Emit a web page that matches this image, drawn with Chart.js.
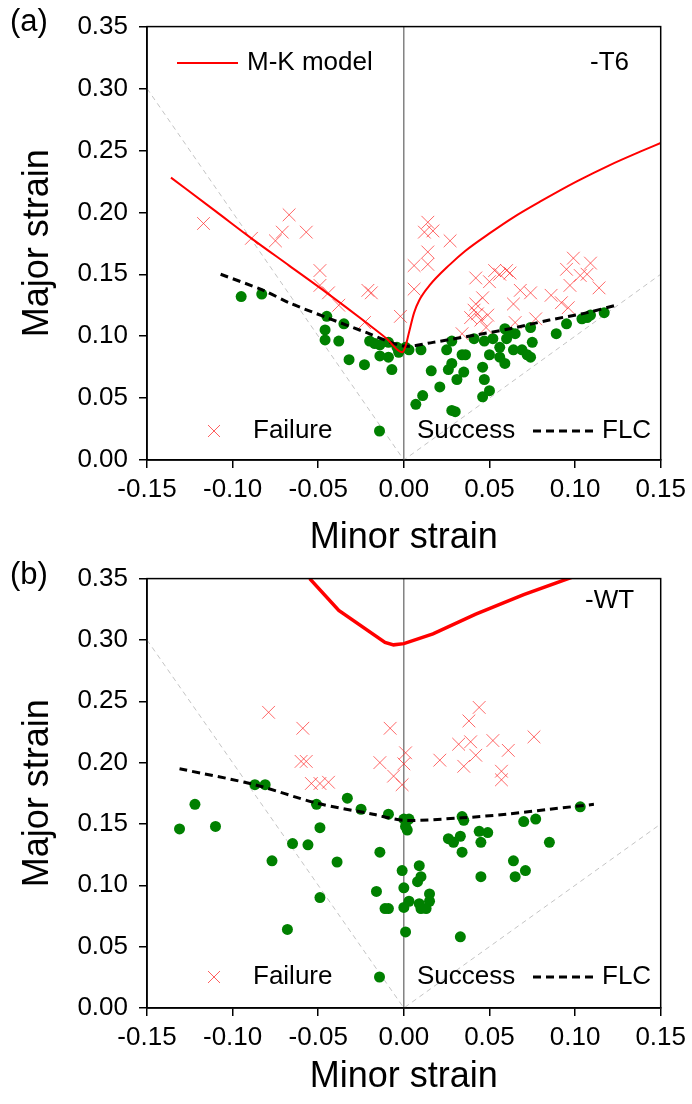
<!DOCTYPE html>
<html>
<head>
<meta charset="utf-8">
<script src="https://cdn.jsdelivr.net/npm/chart.js@4.4.0/dist/chart.umd.min.js"></script>
<style>
    html, body { margin: 0; padding: 0; background: #fff; }
    #wrap { position: relative; width: 692px; height: 1104px; overflow: hidden; }
    .panel { position: absolute; left: 0; width: 692px; }
    #boxA { top: 0; height: 570px; }
    #boxB { top: 552px; height: 552px; }
</style>
</head>
<body>
<div id="wrap">
    <div class="panel" id="boxA"><canvas id="chartA"></canvas></div>
    <div class="panel" id="boxB"><canvas id="chartB"></canvas></div>
</div>
<script>
// Axis ticks
const xTicks = [-0.15, -0.10, -0.05, 0.00, 0.05, 0.10, 0.15];
const yTicks = [0.00, 0.05, 0.10, 0.15, 0.20, 0.25, 0.30, 0.35];

// Strain path guides (uniaxial / equibiaxial)
const guideLine = [[-0.15, 0.30], [0, 0], [0.15, 0.15]];

// (a) -T6
const failA = [
    [-0.117, 0.191], [-0.067, 0.198], [-0.089, 0.179], [-0.075, 0.177], [-0.071, 0.184],
    [-0.057, 0.184], [-0.049, 0.153], [-0.049, 0.141], [-0.044, 0.135], [-0.038, 0.125],
    [-0.021, 0.137], [-0.019, 0.135], [-0.023, 0.111], [-0.002, 0.116],
    [0.014, 0.192], [0.017, 0.185], [0.012, 0.184], [0.027, 0.177], [0.014, 0.168],
    [0.006, 0.157], [0.014, 0.158], [0.006, 0.138], [0.042, 0.147], [0.050, 0.144],
    [0.053, 0.153], [0.056, 0.150], [0.062, 0.151], [0.060, 0.153], [0.068, 0.137],
    [0.074, 0.135], [0.064, 0.126], [0.046, 0.131], [0.042, 0.126], [0.041, 0.121],
    [0.043, 0.118], [0.039, 0.115], [0.049, 0.117], [0.045, 0.113], [0.048, 0.107],
    [0.034, 0.102], [0.065, 0.111], [0.077, 0.114], [0.086, 0.133], [0.092, 0.127],
    [0.096, 0.123], [0.099, 0.163], [0.095, 0.154], [0.109, 0.159], [0.103, 0.149],
    [0.107, 0.150], [0.097, 0.141], [0.114, 0.139]
];
const succA = [
    [-0.095, 0.132], [-0.083, 0.134], [-0.045, 0.116], [-0.035, 0.110], [-0.046, 0.105],
    [-0.046, 0.097], [-0.038, 0.096], [-0.020, 0.096], [-0.017, 0.094], [-0.014, 0.093],
    [-0.009, 0.095], [-0.004, 0.091], [-0.014, 0.084], [-0.009, 0.083], [-0.003, 0.087],
    [-0.032, 0.081], [-0.023, 0.077], [-0.007, 0.073], [0.001, 0.091],
    [0.003, 0.089], [0.010, 0.089], [0.028, 0.096], [0.025, 0.089], [0.034, 0.085],
    [0.036, 0.085], [0.028, 0.078], [0.026, 0.073], [0.016, 0.072], [0.035, 0.071],
    [0.031, 0.065], [0.021, 0.059], [0.011, 0.052], [0.007, 0.045], [0.030, 0.039],
    [0.028, 0.040], [0.046, 0.075], [0.047, 0.065], [0.050, 0.056], [0.046, 0.051],
    [0.041, 0.098], [0.047, 0.096], [0.052, 0.098], [0.056, 0.091], [0.060, 0.098],
    [0.062, 0.103], [0.065, 0.102], [0.059, 0.106], [0.050, 0.085], [0.056, 0.083],
    [0.059, 0.078], [0.064, 0.089], [0.069, 0.089], [0.072, 0.085], [0.074, 0.083],
    [0.075, 0.095], [0.074, 0.107], [0.089, 0.102], [0.095, 0.110], [0.104, 0.114],
    [0.107, 0.115], [0.109, 0.117], [0.117, 0.119]
];
const flcA = [
    [-0.107, 0.150], [-0.082, 0.137], [-0.067, 0.127], [-0.045, 0.115], [-0.022, 0.103],
    [0.000, 0.092], [0.017, 0.095], [0.042, 0.101], [0.062, 0.106], [0.085, 0.113],
    [0.107, 0.119], [0.124, 0.125]
];
const mkA = [
    [-0.136, 0.228], [-0.110, 0.201], [-0.089, 0.179], [-0.067, 0.157], [-0.045, 0.135],
    [-0.022, 0.111], [-0.010, 0.098], [-0.001, 0.087],
    [0.001, 0.092], [0.003, 0.103], [0.006, 0.119], [0.009, 0.129], [0.015, 0.141],
    [0.027, 0.158], [0.036, 0.169], [0.050, 0.183], [0.064, 0.196], [0.080, 0.209],
    [0.101, 0.225], [0.120, 0.238], [0.138, 0.249], [0.150, 0.256]
];

// (b) -WT
const failB = [
    [-0.079, 0.241], [-0.059, 0.228], [-0.060, 0.201], [-0.057, 0.201], [-0.054, 0.183],
    [-0.049, 0.183], [-0.044, 0.184], [-0.008, 0.228], [-0.014, 0.200], [-0.006, 0.189],
    [-0.001, 0.182], [0.001, 0.208], [0.000, 0.199],
    [0.044, 0.245], [0.038, 0.234], [0.032, 0.215], [0.039, 0.217], [0.052, 0.218],
    [0.076, 0.221], [0.061, 0.210], [0.042, 0.206], [0.021, 0.202], [0.035, 0.197],
    [0.057, 0.193], [0.057, 0.186]
];
const succB = [
    [-0.122, 0.166], [-0.131, 0.146], [-0.110, 0.148], [-0.087, 0.182], [-0.081, 0.182],
    [-0.033, 0.171], [-0.051, 0.166], [-0.025, 0.162], [-0.009, 0.158], [-0.049, 0.147],
    [-0.065, 0.134], [-0.056, 0.133], [-0.077, 0.120], [-0.039, 0.119], [-0.014, 0.127],
    [-0.001, 0.112], [-0.016, 0.095], [0.000, 0.098], [-0.011, 0.081], [-0.009, 0.081],
    [0.000, 0.082], [-0.049, 0.090], [-0.068, 0.064], [0.001, 0.062], [0.000, 0.154],
    [0.001, 0.148],
    [0.003, 0.154], [0.002, 0.145], [0.034, 0.156], [0.035, 0.153], [0.026, 0.138],
    [0.029, 0.135], [0.033, 0.140], [0.044, 0.144], [0.049, 0.143], [0.045, 0.135],
    [0.034, 0.127], [0.070, 0.152], [0.077, 0.154], [0.085, 0.135], [0.103, 0.164],
    [0.064, 0.120], [0.071, 0.112], [0.065, 0.107], [0.045, 0.107], [0.009, 0.116],
    [0.010, 0.107], [0.008, 0.103], [0.003, 0.087], [0.009, 0.085], [0.015, 0.093],
    [0.015, 0.087], [0.013, 0.081], [0.010, 0.081], [0.033, 0.058]
];
const flcB = [
    [-0.131, 0.195], [-0.087, 0.182], [-0.051, 0.167], [-0.018, 0.158], [0.000, 0.153],
    [0.034, 0.155], [0.060, 0.158], [0.085, 0.162], [0.111, 0.166]
];
const mkB = [
    [-0.055, 0.350], [-0.038, 0.324], [-0.011, 0.298], [-0.006, 0.296], [0.000, 0.297],
    [0.017, 0.305], [0.042, 0.321], [0.070, 0.337], [0.100, 0.352]
];

const FONT = '"Liberation Sans", Arial, sans-serif';
const toXY = arr => arr.map(p => ({ x: p[0], y: p[1] }));

// Frame, zero line, legend and labels
const decorPlugin = {
    id: 'decor',
    beforeDatasetsDraw(chart) {
        const { ctx, chartArea: a, scales: { x } } = chart;
        const x0 = x.getPixelForValue(0);
        ctx.save();
        ctx.strokeStyle = '#444';
        ctx.lineWidth = 1;
        ctx.beginPath();
        ctx.moveTo(x0, a.top);
        ctx.lineTo(x0, a.bottom);
        ctx.stroke();
        ctx.restore();
    },
    afterDraw(chart, args, opts) {
        const { ctx, chartArea: a } = chart;
        ctx.save();
        ctx.strokeStyle = '#000';
        ctx.lineWidth = 1.5;
        ctx.strokeRect(a.left, a.top, a.right - a.left, a.bottom - a.top);

        ctx.fillStyle = '#000';
        ctx.textBaseline = 'middle';
        ctx.textAlign = 'left';
        ctx.font = '31px ' + FONT;
        ctx.fillText(opts.panel, 10, opts.panelY);

        ctx.font = '26px ' + FONT;
        ctx.fillText(opts.tag, opts.tagX, opts.tagY);

        if (opts.mkLegend) {
            ctx.strokeStyle = '#ff0000';
            ctx.lineWidth = 2;
            ctx.beginPath();
            ctx.moveTo(177, opts.tagY);
            ctx.lineTo(238, opts.tagY);
            ctx.stroke();
            ctx.fillText('M-K model', 247, opts.tagY);
        }

        const ly = opts.legendY;
        // Failure marker
        ctx.strokeStyle = 'rgba(255,40,40,0.75)';
        ctx.lineWidth = 1;
        ctx.beginPath();
        ctx.moveTo(208, ly - 6); ctx.lineTo(220, ly + 6);
        ctx.moveTo(220, ly - 6); ctx.lineTo(208, ly + 6);
        ctx.stroke();
        ctx.fillText('Failure', 253, ly);
        // Success marker
        ctx.fillStyle = '#008000';
        ctx.beginPath();
        ctx.arc(379.5, ly, 5.5, 0, Math.PI * 2);
        ctx.fill();
        ctx.fillStyle = '#000';
        ctx.fillText('Success', 417, ly);
        // FLC marker
        ctx.strokeStyle = '#000';
        ctx.lineWidth = 3;
        ctx.setLineDash([8, 5]);
        ctx.beginPath();
        ctx.moveTo(533, ly); ctx.lineTo(596, ly);
        ctx.stroke();
        ctx.setLineDash([]);
        ctx.fillText('FLC', 602, ly);
        ctx.restore();
    }
};

function makePanel(canvasId, p) {
    const ctx = document.getElementById(canvasId);
    return new Chart(ctx, {
        type: 'scatter',
        data: {
            datasets: [
                {
                    label: 'M-K model',
                    data: toXY(p.mk),
                    showLine: true,
                    borderColor: '#ff0000',
                    borderWidth: p.mkWidth,
                    pointRadius: 0,
                    cubicInterpolationMode: p.mkSmooth ? 'monotone' : 'default',
                    tension: 0
                },
                {
                    label: 'FLC',
                    data: toXY(p.flc),
                    showLine: true,
                    borderColor: '#000',
                    borderWidth: 3,
                    borderDash: [8, 5],
                    pointRadius: 0,
                    tension: 0.3
                },
                {
                    label: 'Failure',
                    data: toXY(p.fail),
                    pointStyle: 'crossRot',
                    pointRadius: 9,
                    borderColor: 'rgba(255,40,40,0.7)',
                    borderWidth: 1
                },
                {
                    label: 'Success',
                    data: toXY(p.succ),
                    pointStyle: 'circle',
                    pointRadius: 5.5,
                    backgroundColor: '#008000',
                    borderColor: '#008000',
                    borderWidth: 0
                },
                {
                    label: 'guide',
                    data: toXY(guideLine),
                    showLine: true,
                    borderColor: '#c4c4c4',
                    borderWidth: 1,
                    borderDash: [5, 4],
                    pointRadius: 0
                }
            ]
        },
        options: {
            responsive: true,
            maintainAspectRatio: false,
            animation: false,
            events: [],
            layout: { padding: { top: p.padTop, right: 31, bottom: 0, left: 0 } },
            plugins: {
                legend: { display: false },
                tooltip: { enabled: false },
                decor: p.decor
            },
            scales: {
                x: {
                    type: 'linear',
                    min: -0.15,
                    max: 0.15,
                    afterBuildTicks: s => { s.ticks = xTicks.map(v => ({ value: v })); },
                    afterFit: s => { s.height = p.xHeight; },
                    ticks: {
                        color: '#000',
                        font: { family: FONT, size: 26 },
                        padding: 6,
                        maxRotation: 0,
                        autoSkip: false,
                        callback: v => v.toFixed(2)
                    },
                    grid: { drawOnChartArea: false, drawTicks: true, tickLength: 8, color: '#000', lineWidth: 1.5 },
                    border: { display: true, color: '#000', width: 1.5 },
                    title: {
                        display: true,
                        text: 'Minor strain',
                        color: '#000',
                        font: { family: FONT, size: 36 },
                        padding: { top: 0, bottom: p.titlePad }
                    }
                },
                y: {
                    type: 'linear',
                    min: 0,
                    max: 0.35,
                    afterBuildTicks: s => { s.ticks = yTicks.map(v => ({ value: v })); },
                    afterFit: s => { s.width = 147; },
                    ticks: {
                        color: '#000',
                        font: { family: FONT, size: 26 },
                        padding: 11,
                        callback: v => v.toFixed(2)
                    },
                    grid: { drawOnChartArea: false, drawTicks: true, tickLength: 8, color: '#000', lineWidth: 1.5 },
                    border: { display: true, color: '#000', width: 1.5 },
                    title: {
                        display: true,
                        text: 'Major strain',
                        color: '#000',
                        font: { family: FONT, size: 36 },
                        padding: { top: 16, bottom: 0 }
                    }
                }
            }
        },
        plugins: [decorPlugin]
    });
}

makePanel('chartA', {
    mk: mkA, flc: flcA, fail: failA, succ: succA, mkWidth: 2, mkSmooth: true,
    padTop: 23, xHeight: 110, titlePad: 10,
    decor: { panel: '(a)', panelY: 22, tag: '-T6', tagX: 590, tagY: 63, mkLegend: true, legendY: 431 }
});
makePanel('chartB', {
    mk: mkB, flc: flcB, fail: failB, succ: succB, mkWidth: 3.5, mkSmooth: false,
    padTop: 19, xHeight: 96, titlePad: 5,
    decor: { panel: '(b)', panelY: 23, tag: '-WT', tagX: 585, tagY: 49, mkLegend: false, legendY: 425 }
});
</script>
</body>
</html>
